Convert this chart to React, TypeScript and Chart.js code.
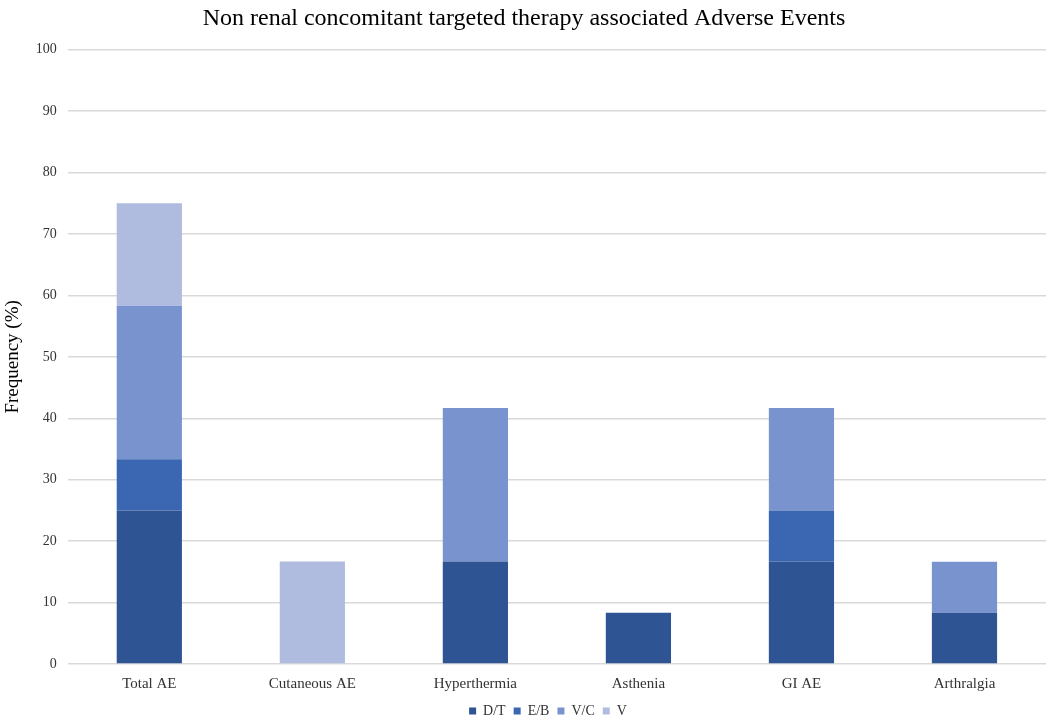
import React, { useEffect, useRef } from "react";
import { Chart, registerables } from "chart.js";

Chart.register(...registerables);

const categories = ["Total AE", "Cutaneous AE", "Hyperthermia", "Asthenia", "GI AE", "Arthralgia"];
const seriesNames = ["D/T", "E/B", "V/C", "V"];
const dtValues = [25, 0, 16.67, 8.33, 16.67, 8.33];
const ebValues = [8.33, 0, 0, 0, 8.33, 0];
const vcValues = [25, 0, 25, 0, 16.67, 8.33];
const vValues = [16.67, 16.67, 0, 0, 0, 0];
const seriesColors = ["#2E5494", "#3A66B2", "#7993CF", "#B0BCDF"];
const yTicks = { min: 0, max: 100, step: 10 };

const FONT = "'Liberation Serif', serif";

const legendShift = {
  id: "legendShift",
  afterLayout(chart: any) {
    if (chart.legend) chart.legend.left += 48;
  },
};

export default function App() {
  const ref = useRef<HTMLCanvasElement>(null);
  useEffect(() => {
    document.body.style.margin = "0";
    const values = [dtValues, ebValues, vcValues, vValues];
    const chart = new Chart(ref.current!, {
      type: "bar",
      data: {
        labels: categories,
        datasets: seriesNames.map((name, i) => ({
          label: name,
          data: values[i],
          backgroundColor: seriesColors[i],
          borderWidth: 0,
          barPercentage: 0.4,
          categoryPercentage: 1,
        })),
      },
      options: {
        animation: false,
        responsive: false,
        maintainAspectRatio: false,
        layout: { padding: { left: 2, right: 2, top: 2, bottom: -8 } },
        plugins: {
          title: {
            display: true,
            text: "Non renal concomitant targeted therapy associated Adverse Events",
            color: "#000",
            font: { family: FONT, size: 24, weight: "normal" },
            padding: { top: 2, bottom: 17 },
          },
          legend: {
            position: "bottom",
            labels: {
              color: "#333",
              boxWidth: 7,
              boxHeight: 7,
              padding: 8,
              font: { family: FONT, size: 14 },
            },
          },
          tooltip: { enabled: false },
        },
        scales: {
          x: {
            stacked: true,
            grid: { display: false },
            border: { display: false },
            ticks: { color: "#333", font: { family: FONT, size: 15 }, padding: 3 },
          },
          y: {
            stacked: true,
            min: yTicks.min,
            max: yTicks.max,
            ticks: {
              stepSize: yTicks.step,
              color: "#333",
              padding: 11,
              font: { family: FONT, size: 14 },
            },
            grid: { color: "#D9D9D9", lineWidth: 1.5, drawTicks: false },
            border: { display: false },
            title: {
              display: true,
              text: "Frequency (%)",
              color: "#000",
              font: { family: FONT, size: 19 },
              padding: { top: 0, bottom: 0 },
            },
          },
        },
      },
      plugins: [legendShift],
    });
    return () => chart.destroy();
  }, []);
  return (
    <div style={{ width: 1048, height: 720 }}>
      <canvas ref={ref} width={1048} height={720} />
    </div>
  );
}
